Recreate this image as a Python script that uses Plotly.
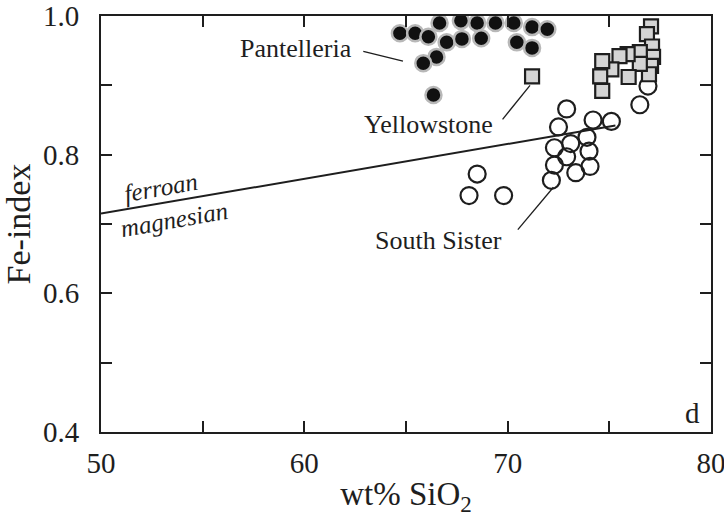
import plotly.graph_objects as go

# Pantelleria (filled circles)
pant_sio2 = [64.7, 65.45, 66.1, 66.65, 67.7, 68.5, 69.4, 70.3, 71.2, 71.95,
             67.0, 67.75, 68.7, 70.45, 71.2, 66.5, 65.85, 66.35]
pant_fe = [0.975, 0.975, 0.970, 0.990, 0.993, 0.990, 0.990, 0.990, 0.984, 0.981,
           0.962, 0.967, 0.968, 0.962, 0.954, 0.941, 0.932, 0.886]

# Yellowstone (grey squares)
yell_sio2 = [77.05, 76.85, 77.1, 77.15, 77.05, 76.95, 76.5, 76.5, 75.9, 75.5,
             75.1, 74.65, 74.55, 74.65, 75.95, 71.2]
yell_fe = [0.985, 0.974, 0.956, 0.941, 0.928, 0.916, 0.948, 0.931, 0.945, 0.942,
           0.923, 0.935, 0.913, 0.892, 0.912, 0.913]

# South Sister (open circles)
ss_sio2 = [72.9, 72.5, 74.2, 75.1, 73.9, 73.1, 72.3, 74.0, 72.9, 72.3, 74.05,
           73.35, 72.15, 68.5, 68.1, 69.8, 76.9, 76.5]
ss_fe = [0.866, 0.840, 0.850, 0.848, 0.825, 0.816, 0.810, 0.805, 0.797, 0.785, 0.783,
         0.774, 0.763, 0.772, 0.741, 0.741, 0.899, 0.872]

# ferroan / magnesian boundary
bound_sio2 = [50.0, 75.3]
bound_fe = [0.715, 0.842]

# x and y ticks
x_ticks = [50, 55, 60, 65, 70, 75, 80]
x_labels = ["50", "", "60", "", "70", "", "80"]
y_ticks = [0.4, 0.5, 0.6, 0.7, 0.8, 0.9, 1.0]
y_labels = ["0.4", "", "0.6", "", "0.8", "", "1.0"]

# label leaders: (x0, y0, x1, y1)
leaders = {
    "Pantelleria": (62.9, 0.949, 64.85, 0.935),
    "Yellowstone": (69.75, 0.851, 71.1, 0.900),
    "South Sister": (70.5, 0.692, 72.25, 0.753),
}
label_pos = {
    "Pantelleria": (59.6, 0.953),
    "Yellowstone": (66.1, 0.844),
    "South Sister": (66.6, 0.676),
}

INK = "#1e1e1e"
SERIF = "Liberation Serif, Times New Roman, serif"

fig = go.Figure()

fig.add_trace(go.Scatter(x=bound_sio2, y=bound_fe, mode="lines",
                         line=dict(color=INK, width=2), hoverinfo="skip"))

for name, (x0, y0, x1, y1) in leaders.items():
    fig.add_trace(go.Scatter(x=[x0, x1], y=[y0, y1], mode="lines",
                             line=dict(color=INK, width=1.3), hoverinfo="skip"))

fig.add_trace(go.Scatter(x=ss_sio2, y=ss_fe, mode="markers", name="South Sister",
                         marker=dict(symbol="circle-open", size=17, color=INK,
                                     line=dict(width=2.2, color=INK))))

fig.add_trace(go.Scatter(x=yell_sio2, y=yell_fe, mode="markers", name="Yellowstone",
                         marker=dict(symbol="square", size=14, color="#d4d4d4",
                                     line=dict(width=2.2, color=INK))))

fig.add_trace(go.Scatter(x=pant_sio2, y=pant_fe, mode="markers", name="Pantelleria",
                         marker=dict(symbol="circle", size=16, color="#111111",
                                     line=dict(width=2.5, color="#b8b8b8"))))

annotations = []
for name, (lx, ly) in label_pos.items():
    annotations.append(dict(x=lx, y=ly, text=name, showarrow=False,
                            font=dict(family=SERIF, size=26, color=INK)))
annotations += [
    dict(x=52.95, y=0.752, text="<i>ferroan</i>", showarrow=False, textangle=-10,
         font=dict(family=SERIF, size=25, color=INK)),
    dict(x=53.6, y=0.707, text="<i>magnesian</i>", showarrow=False, textangle=-10,
         font=dict(family=SERIF, size=25, color=INK)),
    dict(x=79.1, y=0.428, text="d", showarrow=False,
         font=dict(family=SERIF, size=29, color=INK)),
]

fig.update_layout(
    width=724, height=520,
    margin=dict(l=101, r=13, t=16, b=88, autoexpand=False),
    paper_bgcolor="white", plot_bgcolor="white",
    showlegend=False,
    font=dict(family=SERIF, color=INK),
    annotations=annotations,
    xaxis=dict(range=[50, 80], tickvals=x_ticks, ticktext=x_labels,
               ticks="inside", ticklen=11, tickwidth=2, tickcolor=INK,
               showline=True, linewidth=2, linecolor=INK, mirror="ticks",
               showgrid=False, zeroline=False, ticklabelstandoff=4,
               ticklabeloverflow="allow", automargin=False,
               tickfont=dict(family=SERIF, size=29, color=INK),
               title=dict(text="wt% SiO<sub>2</sub>", standoff=4,
                          font=dict(family=SERIF, size=33, color=INK))),
    yaxis=dict(range=[0.4, 1.0], tickvals=y_ticks, ticktext=y_labels,
               ticks="inside", ticklen=11, tickwidth=2, tickcolor=INK,
               showline=True, linewidth=2, linecolor=INK, mirror="ticks",
               showgrid=False, zeroline=False, ticklabelstandoff=14,
               ticklabeloverflow="allow", automargin=False,
               tickfont=dict(family=SERIF, size=29, color=INK),
               title=dict(text="Fe-index", standoff=4,
                          font=dict(family=SERIF, size=34, color=INK))),
)

fig.write_html("out.html")
